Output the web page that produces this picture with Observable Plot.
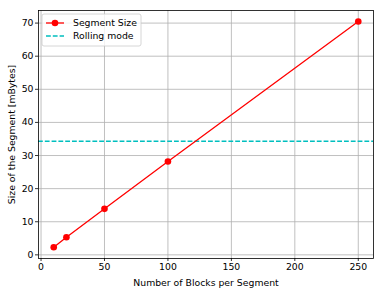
<!DOCTYPE html>
<html>
<head>
<meta charset="utf-8">
<script src="https://cdn.jsdelivr.net/npm/d3@7"></script>
<script src="https://cdn.jsdelivr.net/npm/@observablehq/plot@0.6"></script>
<style>
  html, body { margin: 0; padding: 0; background: #fff; }
  #chart svg { display: block; }
</style>
</head>
<body>
<div id="chart"></div>
<script>
const blocksPerSegment = [10, 20, 50, 100, 250];
const segmentSizeMB = [2.3, 5.3, 13.9, 28.2, 70.5];
const rollingModeMB = [34.3];
const xTicks = [0, 50, 100, 150, 200, 250];
const yTicks = [0, 10, 20, 30, 40, 50, 60, 70];
const seriesNames = ["Segment Size", "Rolling mode"];

const data = blocksPerSegment.map((b, i) => ({blocks: b, size: segmentSizeMB[i]}));

const font = "'DejaVu Sans', sans-serif";
const fs = "9.3px";
const plot = Plot.plot({
  width: 383,
  height: 295,
  marginLeft: 38,
  marginRight: 10,
  marginTop: 10,
  marginBottom: 37,
  style: {fontFamily: font, fontSize: fs, color: "#000", background: "#fff"},
  x: {domain: [-2, 262]},
  y: {domain: [-1.1, 73.8]},
  marks: [
    Plot.gridX(xTicks, {stroke: "#b0b0b0", strokeOpacity: 1, strokeWidth: 0.8}),
    Plot.gridY(yTicks, {stroke: "#b0b0b0", strokeOpacity: 1, strokeWidth: 0.8}),
    Plot.ruleY(rollingModeMB, {stroke: "#00bfbf", strokeWidth: 1.5, strokeDasharray: "4.8,2"}),
    Plot.line(data, {x: "blocks", y: "size", stroke: "#ff0000", strokeWidth: 1.3}),
    Plot.dot(data, {x: "blocks", y: "size", fill: "#ff0000", r: 3.3}),
    Plot.frame({stroke: "#000", strokeWidth: 0.8}),
    Plot.axisX(xTicks, {tickSize: 3, tickPadding: 2, label: "Number of Blocks per Segment", labelAnchor: "center", labelArrow: "none", labelOffset: 27, fill: "#000", stroke: "#000", strokeWidth: 0.8}),
    Plot.axisY(yTicks, {tickSize: 3, tickPadding: 2, label: "Size of the Segment [mBytes]", labelAnchor: "center", labelArrow: "none", labelOffset: 30, fill: "#000", stroke: "#000", strokeWidth: 0.8})
  ]
});
document.getElementById("chart").appendChild(plot);

// Legend (decoration, pixel layout)
const svg = d3.select(plot);
const lg = svg.append("g").attr("font-family", font).attr("font-size", fs).attr("text-anchor", "start");
lg.append("rect").attr("x", 42).attr("y", 14).attr("width", 99).attr("height", 32)
  .attr("rx", 2).attr("fill", "#fff").attr("fill-opacity", 0.8).attr("stroke", "#cccccc").attr("stroke-width", 0.8);
lg.append("line").attr("x1", 46).attr("x2", 64).attr("y1", 23).attr("y2", 23).attr("stroke", "#ff0000").attr("stroke-width", 1.3);
lg.append("circle").attr("cx", 55).attr("cy", 23).attr("r", 3.3).attr("fill", "#ff0000");
lg.append("text").attr("x", 73).attr("y", 23).attr("dy", "0.35em").attr("fill", "#000").text(seriesNames[0]);
lg.append("line").attr("x1", 46).attr("x2", 64).attr("y1", 36).attr("y2", 36).attr("stroke", "#00bfbf").attr("stroke-width", 1.5).attr("stroke-dasharray", "4.8,2");
lg.append("text").attr("x", 73).attr("y", 36).attr("dy", "0.35em").attr("fill", "#000").text(seriesNames[1]);
</script>
</body>
</html>
